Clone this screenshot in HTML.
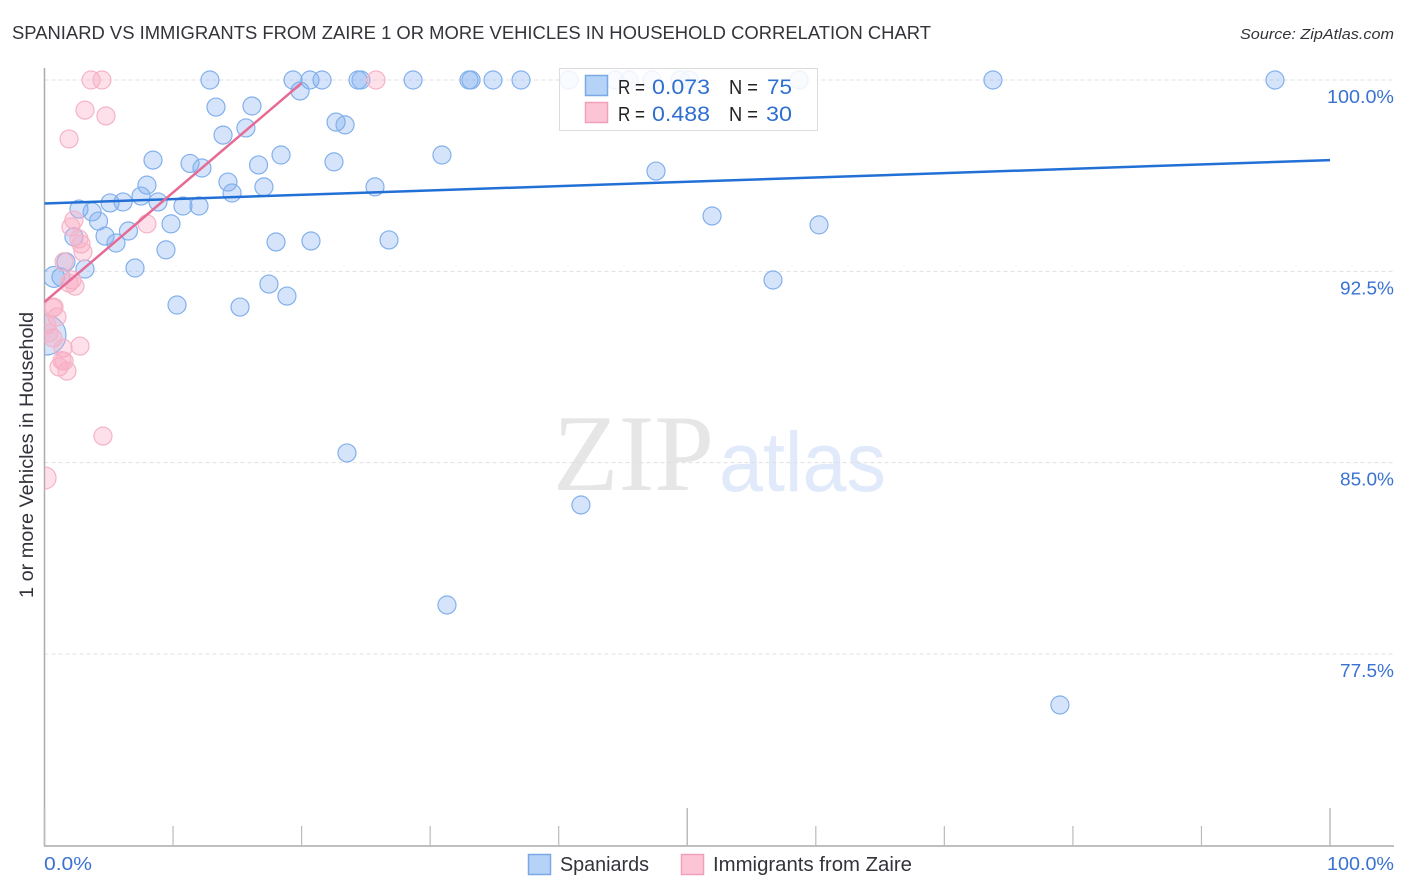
<!DOCTYPE html>
<html lang="en">
<head>
<meta charset="utf-8">
<title>Spaniard vs Immigrants from Zaire correlation chart</title>
<style>
html,body{margin:0;padding:0;background:#fff;width:1406px;height:892px;overflow:hidden}
svg{display:block}
text{font-family:"Liberation Sans",sans-serif}
</style>
</head>
<body>
<svg id="chart" width="1406" height="892" viewBox="0 0 1406 892" xmlns="http://www.w3.org/2000/svg">
  <defs><clipPath id="plot-clip"><rect x="44.5" y="60" width="1350" height="786"/></clipPath></defs>
  <text x="12" y="39" font-size="18.5" fill="#33333b" textLength="919" lengthAdjust="spacingAndGlyphs">SPANIARD VS IMMIGRANTS FROM ZAIRE 1 OR MORE VEHICLES IN HOUSEHOLD CORRELATION CHART</text>
  <text x="1394" y="39" font-size="15" font-style="italic" fill="#33333b" text-anchor="end" textLength="154" lengthAdjust="spacingAndGlyphs">Source: ZipAtlas.com</text>
  <g>
    <text x="553" y="490" font-size="109" fill="#e6e6e6" textLength="161" lengthAdjust="spacingAndGlyphs" style="font-family:'Liberation Serif',serif">ZIP</text>
    <text x="719" y="491" font-size="84" fill="#e1eafa" textLength="167" lengthAdjust="spacingAndGlyphs">atlas</text>
  </g>
  <g id="grid"></g>
  <g id="axes"></g>
  <g id="marks" clip-path="url(#plot-clip)"></g>
  <g id="trends"></g>
  <text transform="translate(33,455) rotate(-90)" font-size="19.5" fill="#33333b" text-anchor="middle" textLength="286" lengthAdjust="spacingAndGlyphs">1 or more Vehicles in Household</text>
  <g>
    <rect x="559.5" y="68.5" width="258" height="62" fill="#fff" fill-opacity="0.86" stroke="#dcdcdc"/>
    <rect x="585.5" y="75.5" width="22" height="20" fill="#b5d2f7" stroke="#7aa9e6" stroke-width="1.5"/>
    <rect x="585.5" y="102.5" width="22" height="20" fill="#fcc5d6" stroke="#f0a0b8" stroke-width="1.5"/>
    <text x="618" y="94" font-size="20" fill="#222" textLength="27" lengthAdjust="spacingAndGlyphs">R =</text>
    <text x="652" y="94" font-size="21.5" fill="#2f6fd0" textLength="58" lengthAdjust="spacingAndGlyphs">0.073</text>
    <text x="729" y="94" font-size="20" fill="#222" textLength="29" lengthAdjust="spacingAndGlyphs">N =</text>
    <text x="767" y="94" font-size="21.5" fill="#2f6fd0" textLength="25" lengthAdjust="spacingAndGlyphs">75</text>
    <text x="618" y="121" font-size="20" fill="#222" textLength="27" lengthAdjust="spacingAndGlyphs">R =</text>
    <text x="652" y="121" font-size="21.5" fill="#2f6fd0" textLength="58" lengthAdjust="spacingAndGlyphs">0.488</text>
    <text x="729" y="121" font-size="20" fill="#222" textLength="29" lengthAdjust="spacingAndGlyphs">N =</text>
    <text x="766" y="121" font-size="21.5" fill="#2f6fd0" textLength="26" lengthAdjust="spacingAndGlyphs">30</text>
  </g>
  <g>
    <rect x="528.5" y="854.5" width="22" height="20" fill="#b5d2f7" stroke="#7aa9e6" stroke-width="1.5"/>
    <text x="560" y="871" font-size="20" fill="#33333b" textLength="89" lengthAdjust="spacingAndGlyphs">Spaniards</text>
    <rect x="681.5" y="854.5" width="22" height="20" fill="#fcc5d6" stroke="#f0a0b8" stroke-width="1.5"/>
    <text x="713" y="871" font-size="20" fill="#33333b" textLength="199" lengthAdjust="spacingAndGlyphs">Immigrants from Zaire</text>
  </g>
</svg>
<script>
const yTickValues = [100, 92.5, 85, 77.5];
const yTickLabels = ["100.0%", "92.5%", "85.0%", "77.5%"];
const xTickValues = [0, 10, 20, 30, 40, 50, 60, 70, 80, 90, 100];
const xMajorTicks = [0, 50, 100];
const xTickLabels = ["0.0%", "100.0%"];

const spaniardsX = [12.87,19.33,20.65,21.59,24.39,24.62,28.67,33.02,33.18,34.89,37.07,40.80,44.38,45.47,47.26,49.44,50.14,58.69,73.78,95.72,
  19.88,13.34,16.14,13.89,15.67,22.68,23.38,8.44,11.32,12.25,16.65,18.40,22.52,14.27,14.59,17.07,7.97,7.51,8.83,5.10,6.11,2.68,3.70,4.20,9.84,10.77,12.02,6.53,4.71,2.29,5.56,9.45,18.01,20.73,7.04,1.67,1.28,0.74,3.15,17.46,18.86,10.31,15.21,0.12,25.71,26.80,30.92,47.57,51.93,60.25,56.67,23.53,41.73,31.31,78.99];
const spaniardsY = [100,100,100,100,100,100,100,100,100,100,100,100,100,100,100,100,100,100,100,100,
  99.57,98.94,98.98,97.84,98.12,98.35,98.24,96.86,96.73,96.55,96.67,97.06,96.79,96.00,95.57,95.81,95.88,95.45,95.22,95.18,95.22,94.94,94.83,94.47,94.36,95.06,95.06,94.08,93.88,93.85,93.61,93.34,93.65,93.69,92.63,92.87,92.28,92.28,92.59,92.00,91.53,91.18,91.10,90.00,95.81,93.73,97.06,96.43,94.67,94.32,92.16,85.38,83.34,79.42,75.50];
const zaireX = [3.62,4.47,25.79,3.15,4.78,1.91,7.97,2.29,2.06,2.68,2.84,2.99,1.52,2.14,1.91,2.37,0.66,0.97,0.19,0.66,0.35,1.44,2.76,1.52,1.13,1.75,4.55,0.04,0.74,1.36];
const zaireY = [100,100,100,98.82,98.59,97.69,94.36,94.51,94.24,93.77,93.57,93.26,92.87,92.16,92.04,91.92,91.06,90.71,90.40,89.89,90.08,89.49,89.57,88.98,88.75,88.59,86.04,84.40,91.10,89.00];

// relative population weight of oversized points: [index, weight]
const spaniardsWeights = [[57, 1.35], [63, 4.9]];
const zaireWeights = [[27, 1.5]];

const spaniardsTrendX = [0, 100];
const spaniardsTrendY = [95.16, 96.86];
const zaireTrendX = [0, 20];
const zaireTrendY = [91.30, 99.88];

const NS = 'http://www.w3.org/2000/svg';
const xScale = v => 44.5 + v * 12.855;
const yScale = v => 80 + (100 - v) * 25.51;
const radius = w => 9 * Math.sqrt(w);

function make(tag, attrs, parent) {
  const el = document.createElementNS(NS, tag);
  for (const k in attrs) el.setAttribute(k, attrs[k]);
  parent.appendChild(el);
  return el;
}

const grid = document.getElementById('grid');
const axes = document.getElementById('axes');
const marks = document.getElementById('marks');
const trends = document.getElementById('trends');

yTickValues.forEach((v, i) => {
  const line = make('line', {x1: 44.5, x2: 1394, y1: yScale(v), y2: yScale(v), stroke: '#e0e0e0', 'stroke-width': 1, 'stroke-dasharray': '4 3'}, grid);
  
  
  const label = make('text', {x: 1394, y: yScale(v) + 23, 'font-size': 18.5, fill: '#3a72d2', 'text-anchor': 'end', textLength: yTickLabels[i].length > 5 ? 67 : 54, lengthAdjust: 'spacingAndGlyphs'}, axes);
  label.textContent = yTickLabels[i];
  
  
});

const yAxis = make('line', {x1: 44.5, x2: 44.5, y1: 68, y2: 846, stroke: '#aaaaaa', 'stroke-width': 1.5}, axes);


const xAxis = make('line', {x1: 44, x2: 1394, y1: 846, y2: 846, stroke: '#aaaaaa', 'stroke-width': 1.5}, axes);



xTickValues.forEach(v => {
  const tall = xMajorTicks.includes(v);
  const tick = make('line', {x1: xScale(v), x2: xScale(v), y1: tall ? 808 : 826, y2: 846, stroke: '#bbbbbb', 'stroke-width': tall ? 1.5 : 1.2}, axes);
  
  
});

const xLabelLeft = make('text', {x: 44, y: 870, 'font-size': 18.5, fill: '#3a72d2', textLength: 48, lengthAdjust: 'spacingAndGlyphs'}, axes);
xLabelLeft.textContent = xTickLabels[0];


const xLabelRight = make('text', {x: 1394, y: 870, 'font-size': 18.5, fill: '#3a72d2', 'text-anchor': 'end', textLength: 67, lengthAdjust: 'spacingAndGlyphs'}, axes);
xLabelRight.textContent = xTickLabels[1];



function weightOf(list, i) {
  const hit = list.find(p => p[0] === i);
  return hit ? hit[1] : 1;
}

spaniardsX.forEach((x, i) => {
  const dot = make('circle', {cx: xScale(x), cy: yScale(spaniardsY[i]), r: radius(weightOf(spaniardsWeights, i)), fill: 'rgba(125,172,240,0.32)', stroke: '#82b0ec', 'stroke-width': 1.2}, marks);
  
  
});
zaireX.forEach((x, i) => {
  const dot = make('circle', {cx: xScale(x), cy: yScale(zaireY[i]), r: radius(weightOf(zaireWeights, i)), fill: 'rgba(250,170,195,0.36)', stroke: '#f5b3c6', 'stroke-width': 1.2}, marks);
  
  
});

const blueTrend = make('line', {x1: xScale(spaniardsTrendX[0]), y1: yScale(spaniardsTrendY[0]), x2: xScale(spaniardsTrendX[1]), y2: yScale(spaniardsTrendY[1]), stroke: '#2270d6', 'stroke-width': 2.5}, trends);


const pinkTrend = make('line', {x1: xScale(zaireTrendX[0]), y1: yScale(zaireTrendY[0]), x2: xScale(zaireTrendX[1]), y2: yScale(zaireTrendY[1]), stroke: '#e56b95', 'stroke-width': 2.5}, trends);


</script>
</body>
</html>
